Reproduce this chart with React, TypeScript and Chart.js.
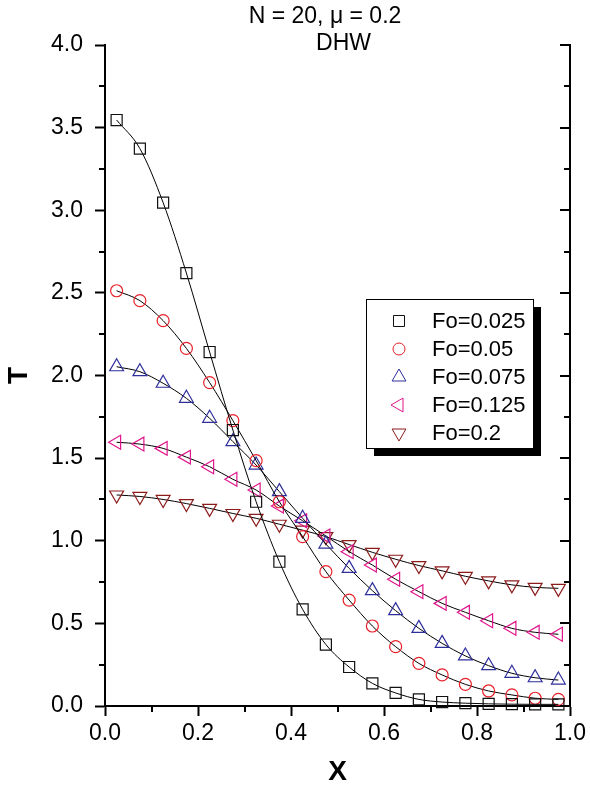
import React, { useEffect, useRef } from 'react';
import { Chart, registerables } from 'chart.js';
import { drawPoint } from 'chart.js/helpers';

Chart.register(...registerables);

// ---------- data ----------
const xValues = [0.025, 0.075, 0.125, 0.175, 0.225, 0.275, 0.325, 0.375, 0.425, 0.475,
  0.525, 0.575, 0.625, 0.675, 0.725, 0.775, 0.825, 0.875, 0.925, 0.975];

const fo0025 = [3.546, 3.373, 3.046, 2.620, 2.142, 1.670, 1.236, 0.873, 0.585, 0.372,
  0.236, 0.137, 0.079, 0.040, 0.024, 0.017, 0.013, 0.011, 0.010, 0.010];
const fo005 = [2.513, 2.453, 2.332, 2.164, 1.957, 1.727, 1.485, 1.236, 1.025, 0.813,
  0.641, 0.484, 0.359, 0.258, 0.188, 0.131, 0.091, 0.067, 0.047, 0.040];
const fo0075 = [2.053, 2.023, 1.953, 1.862, 1.741, 1.600, 1.458, 1.297, 1.136, 0.980,
  0.833, 0.698, 0.577, 0.470, 0.379, 0.303, 0.244, 0.198, 0.171, 0.157];
const fo0125 = [1.596, 1.585, 1.559, 1.506, 1.448, 1.372, 1.307, 1.210, 1.121, 1.029,
  0.934, 0.853, 0.767, 0.692, 0.621, 0.567, 0.516, 0.470, 0.446, 0.434];
const fo02 = [1.277, 1.268, 1.250, 1.225, 1.196, 1.165, 1.136, 1.100, 1.064, 1.025,
  0.977, 0.930, 0.888, 0.850, 0.818, 0.785, 0.757, 0.733, 0.718, 0.712];

const seriesLabels = ['Fo=0.025', 'Fo=0.05', 'Fo=0.075', 'Fo=0.125', 'Fo=0.2'];

const xTicks = [0, 0.2, 0.4, 0.6, 0.8, 1.0];
const xMinorTicks = [0.1, 0.3, 0.5, 0.7, 0.9];
const yTicks = [0, 0.5, 1.0, 1.5, 2.0, 2.5, 3.0, 3.5, 4.0];
const yMinorTicks = [0.25, 0.75, 1.25, 1.75, 2.25, 2.75, 3.25, 3.75];

const titleLine1 = 'N = 20, \u03bc = 0.2';
const titleLine2 = 'DHW';
const xTitle = 'X';
const yTitle = 'T';

// ---------- styles ----------
const FONT = '"Liberation Sans", Arial, Helvetica, sans-serif';
const seriesStyles = [
  { color: '#111111', pointStyle: 'rect', rotation: 0, radius: 7.8 },
  { color: '#e8202a', pointStyle: 'circle', rotation: 0, radius: 6 },
  { color: '#2f2f9c', pointStyle: 'triangle', rotation: 0, radius: 8 },
  { color: '#e0168c', pointStyle: 'triangle', rotation: -90, radius: 8 },
  { color: '#8c1c1c', pointStyle: 'triangle', rotation: 180, radius: 8 },
];
const seriesValues = [fo0025, fo005, fo0075, fo0125, fo02];

const decorPlugin = {
  id: 'decor',
  afterDraw(chart: any) {
    const { ctx, chartArea, scales } = chart;
    const x = scales.x;
    const y = scales.y;
    ctx.save();
    ctx.strokeStyle = '#000';
    ctx.lineWidth = 2;
    ctx.beginPath();
    // minor ticks bottom (outward)
    xMinorTicks.forEach((v) => {
      const px = Math.round(x.getPixelForValue(v));
      ctx.moveTo(px, chartArea.bottom);
      ctx.lineTo(px, chartArea.bottom + 6);
    });
    // minor ticks left (outward)
    yMinorTicks.forEach((v) => {
      const py = Math.round(y.getPixelForValue(v));
      ctx.moveTo(chartArea.left, py);
      ctx.lineTo(chartArea.left - 6, py);
    });
    // right axis ticks (inward)
    yTicks.forEach((v) => {
      const py = Math.round(y.getPixelForValue(v));
      ctx.moveTo(chartArea.right, py);
      ctx.lineTo(chartArea.right - 10, py);
    });
    yMinorTicks.forEach((v) => {
      const py = Math.round(y.getPixelForValue(v));
      ctx.moveTo(chartArea.right, py);
      ctx.lineTo(chartArea.right - 6, py);
    });
    ctx.stroke();

    // title lines
    ctx.fillStyle = '#000';
    ctx.font = `23px ${FONT}`;
    ctx.textAlign = 'center';
    ctx.textBaseline = 'alphabetic';
    const cx = (chartArea.left + chartArea.right) / 2;
    ctx.fillText(titleLine1, cx - 12.5, chartArea.top - 22);
    ctx.fillText(titleLine2, cx + 6, chartArea.top + 5);

    // legend
    const lx = chartArea.left + 261;
    const ly = chartArea.top + 254;
    const lw = 167;
    const lh = 149;
    ctx.fillStyle = '#000';
    ctx.fillRect(lx + 8, ly + 8, lw, lh);
    ctx.fillStyle = '#fff';
    ctx.fillRect(lx, ly, lw, lh);
    ctx.lineWidth = 1;
    ctx.strokeStyle = '#000';
    ctx.strokeRect(lx + 0.5, ly + 0.5, lw, lh);
    ctx.font = `22px ${FONT}`;
    ctx.textAlign = 'left';
    ctx.textBaseline = 'middle';
    seriesLabels.forEach((label, i) => {
      const st = seriesStyles[i];
      const rowY = ly + 22 + i * 28;
      ctx.strokeStyle = st.color;
      ctx.fillStyle = 'rgba(0,0,0,0)';
      ctx.lineWidth = 1;
      drawPoint(ctx, { pointStyle: st.pointStyle, rotation: st.rotation, radius: st.radius, borderWidth: 1 } as any, lx + 33, rowY);
      ctx.fillStyle = '#000';
      ctx.fillText(label, lx + 66, rowY + 1);
    });
    ctx.restore();
  },
};

export default function App() {
  const ref = useRef<HTMLCanvasElement | null>(null);
  useEffect(() => {
    document.body.style.margin = '0';
    const canvas = ref.current;
    if (!canvas) return;
    const datasets = seriesValues.map((vals, i) => ({
      label: seriesLabels[i],
      data: vals.map((v, j) => ({ x: xValues[j], y: v })),
      showLine: true,
      borderColor: '#000',
      borderWidth: 1,
      backgroundColor: 'rgba(0,0,0,0)',
      pointBorderColor: seriesStyles[i].color,
      pointBackgroundColor: 'rgba(0,0,0,0)',
      pointBorderWidth: 1.2,
      pointRadius: seriesStyles[i].radius,
      pointStyle: seriesStyles[i].pointStyle,
      pointRotation: seriesStyles[i].rotation,
      cubicInterpolationMode: 'monotone',
      clip: false,
    }));
    const chart = new Chart(canvas, {
      type: 'scatter',
      data: { datasets } as any,
      options: {
        animation: false,
        responsive: false,
        devicePixelRatio: 1,
        layout: { padding: { top: 45, right: 16, left: 0, bottom: 0 } },
        plugins: { legend: { display: false }, title: { display: false }, tooltip: { enabled: false } },
        events: [],
        scales: {
          x: {
            type: 'linear',
            min: 0,
            max: 1,
            afterBuildTicks: (s: any) => { s.ticks = xTicks.map((v) => ({ value: v })); },
            afterFit: (s: any) => { s.height = 83; },
            ticks: {
              font: { family: FONT, size: 23 },
              color: '#000',
              padding: 4,
              autoSkip: false,
              maxRotation: 0,
              callback: (v: any) => Number(v).toFixed(1),
            },
            grid: { drawOnChartArea: false, drawTicks: true, tickLength: 10, tickWidth: 2, tickColor: '#000' },
            border: { display: true, color: '#000', width: 2 },
            title: { display: true, text: xTitle, color: '#000', font: { family: FONT, size: 28, weight: 'bold' }, padding: { top: 0, bottom: 0 } },
          },
          y: {
            type: 'linear',
            position: 'left',
            min: 0,
            max: 4,
            afterBuildTicks: (s: any) => { s.ticks = yTicks.map((v) => ({ value: v })); },
            afterFit: (s: any) => { s.width = 105; },
            ticks: {
              font: { family: FONT, size: 23 },
              color: '#000',
              padding: 12,
              autoSkip: false,
              callback: (v: any) => Number(v).toFixed(1),
            },
            grid: { drawOnChartArea: false, drawTicks: true, tickLength: 10, tickWidth: 2, tickColor: '#000' },
            border: { display: true, color: '#000', width: 2 },
            title: { display: true, text: yTitle, color: '#000', font: { family: FONT, size: 28, weight: 'bold' }, padding: { top: 2, bottom: 0 } },
          },
          y2: {
            type: 'linear',
            position: 'right',
            min: 0,
            max: 4,
            afterFit: (s: any) => { s.width = 0; },
            ticks: { display: false },
            grid: { drawOnChartArea: false, drawTicks: false },
            border: { display: true, color: '#000', width: 2 },
          },
        },
      } as any,
      plugins: [decorPlugin],
    });
    return () => chart.destroy();
  }, []);
  return <canvas ref={ref} width={590} height={789} style={{ display: 'block' }} />;
}
